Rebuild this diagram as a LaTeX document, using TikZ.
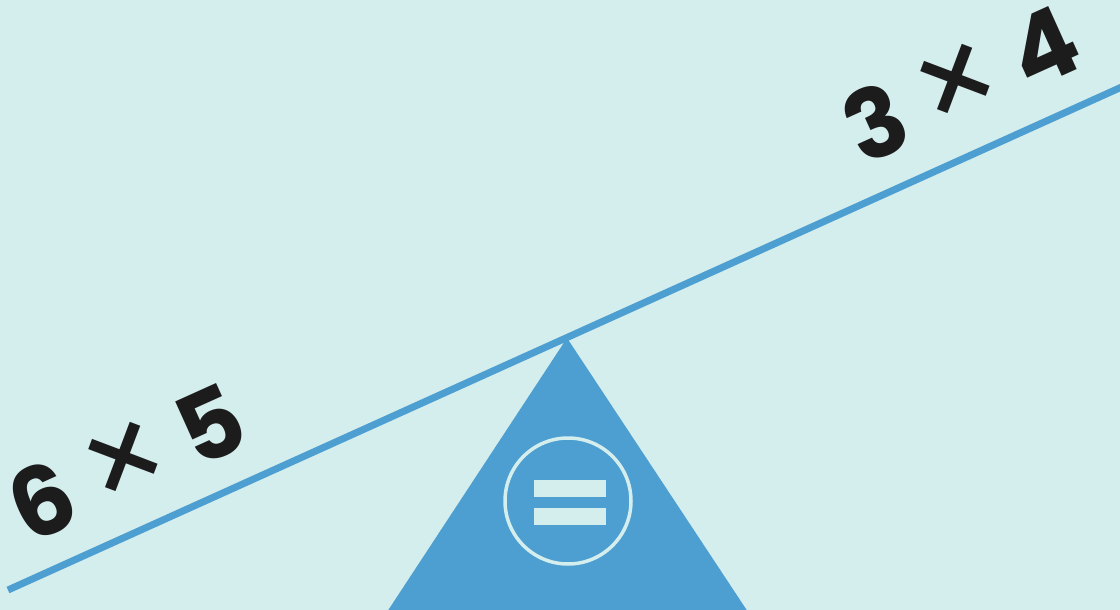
\documentclass[tikz,border=0pt]{standalone}
\usepackage{fontspec}
\setmainfont{Poppins}
\usetikzlibrary{positioning}
\usepackage{xcolor}
\definecolor{bgcyan}{HTML}{D4EDED}
\definecolor{beamblue}{HTML}{4D9FD1}
\definecolor{inkdark}{HTML}{1C1C1C}
\newcommand{\timessign}{\hspace{0.2em}\raisebox{-7pt}{\fontsize{132}{132}\selectfont\mdseries ×}\hspace{0.2em}}

\begin{document}
\begin{tikzpicture}[
            x=1pt, y=-1pt,
            beam/.style={draw=beamblue, line width=7pt},
            fulcrum/.style={fill=beamblue},
            sign/.style={circle, draw=bgcyan, line width=3.5pt, minimum size=126pt, inner sep=0pt},
            bar/.style={rectangle, fill=bgcyan, minimum width=72pt, minimum height=17pt, inner sep=0pt},
            product/.style={font=\fontsize{96}{96}\selectfont\bfseries, text=inkdark, rotate=24.3, inner sep=0pt}
        ]
            % --- FUNDO ---
            \fill[bgcyan] (0,0) rectangle (1120,610);
            \useasboundingbox (0,0) rectangle (1120,610);
            \clip (0,0) rectangle (1120,610);

            % --- APOIO (triangulo) ---
            \fill[fulcrum] (567,338) -- (748,612) -- (387,612) -- cycle;

            % Sinal de igual
            \node[sign] (equalSign) at (568,501) {};
            \node[bar] (barTop) at (570,488.5) {};
            \node[bar] (barBottom) at (570,516.5) {};

            % --- BARRA ---
            \coordinate (beamLeft) at (8,590);
            \coordinate (beamRight) at (1135,81);
            \draw[beam] (beamLeft) -- (beamRight);

            % --- PRODUTOS ---
            \node[product] (leftProduct) at (128,465) {6\timessign5};
            \node[product] (rightProduct) at (962,86) {3\timessign4};
        \end{tikzpicture}
\end{document}
